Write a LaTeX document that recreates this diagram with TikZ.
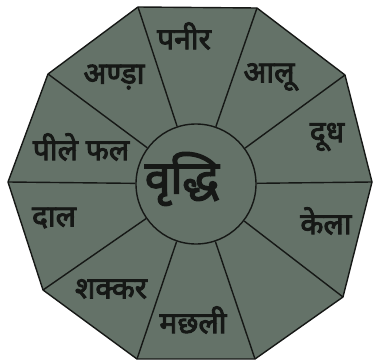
\documentclass[tikz,border=0pt]{standalone}
\usepackage{fontspec}
\newfontfamily\deva[Script=Devanagari,FakeBold=3]{Noto Sans}
\definecolor{secfill}{RGB}{100,114,104}
\definecolor{ink}{RGB}{22,24,22}
\begin{document}
\begin{tikzpicture}[x=1pt,y=-1pt,line width=1.4pt,
  lbl/.style={font=\deva\fontsize{30}{30}\selectfont,text=ink,inner sep=0pt},
  hub/.style={circle,draw=ink,fill=secfill,minimum size=120pt,inner sep=0pt}]
\useasboundingbox (0,0) rectangle (376,362);
\coordinate (v1) at (138,7);
\coordinate (v2) at (257,8);
\coordinate (v3) at (345,75);
\coordinate (v4) at (372,182);
\coordinate (v5) at (343,297);
\coordinate (v6) at (255,359);
\coordinate (v7) at (137,359);
\coordinate (v8) at (43,290);
\coordinate (v9) at (8,182);
\coordinate (v10) at (48,74);
\filldraw[fill=secfill,draw=ink,line join=round]
  (v1) -- (v2) -- (v3) -- (v4) -- (v5) -- (v6) -- (v7) -- (v8) -- (v9) -- (v10) -- cycle;
\node[hub] (c) at (196,184) {};
\foreach \i in {1,...,10} {\draw[ink] (v\i) -- (c);}
\node[lbl] (tc) at (182,179) {\fontsize{46}{46}\selectfont वृद्धि};
\node[lbl] (t1) at (184,36) {पनीर};
\node[lbl] (t2) at (269,77) {आलू};
\node[lbl] (t3) at (327,137) {दूध};
\node[lbl] (t4) at (326,221) {केला};
\node[lbl] (t6) at (193,320) {मछली};
\node[lbl] (t7) at (111,289) {शक्कर};
\node[lbl] (t8) at (54,218) {दाल};
\node[lbl] (t9) at (81,147) {पीले फल};
\node[lbl] (t10) at (114,77) {अण्ड़ा};
\end{tikzpicture}
\end{document}
